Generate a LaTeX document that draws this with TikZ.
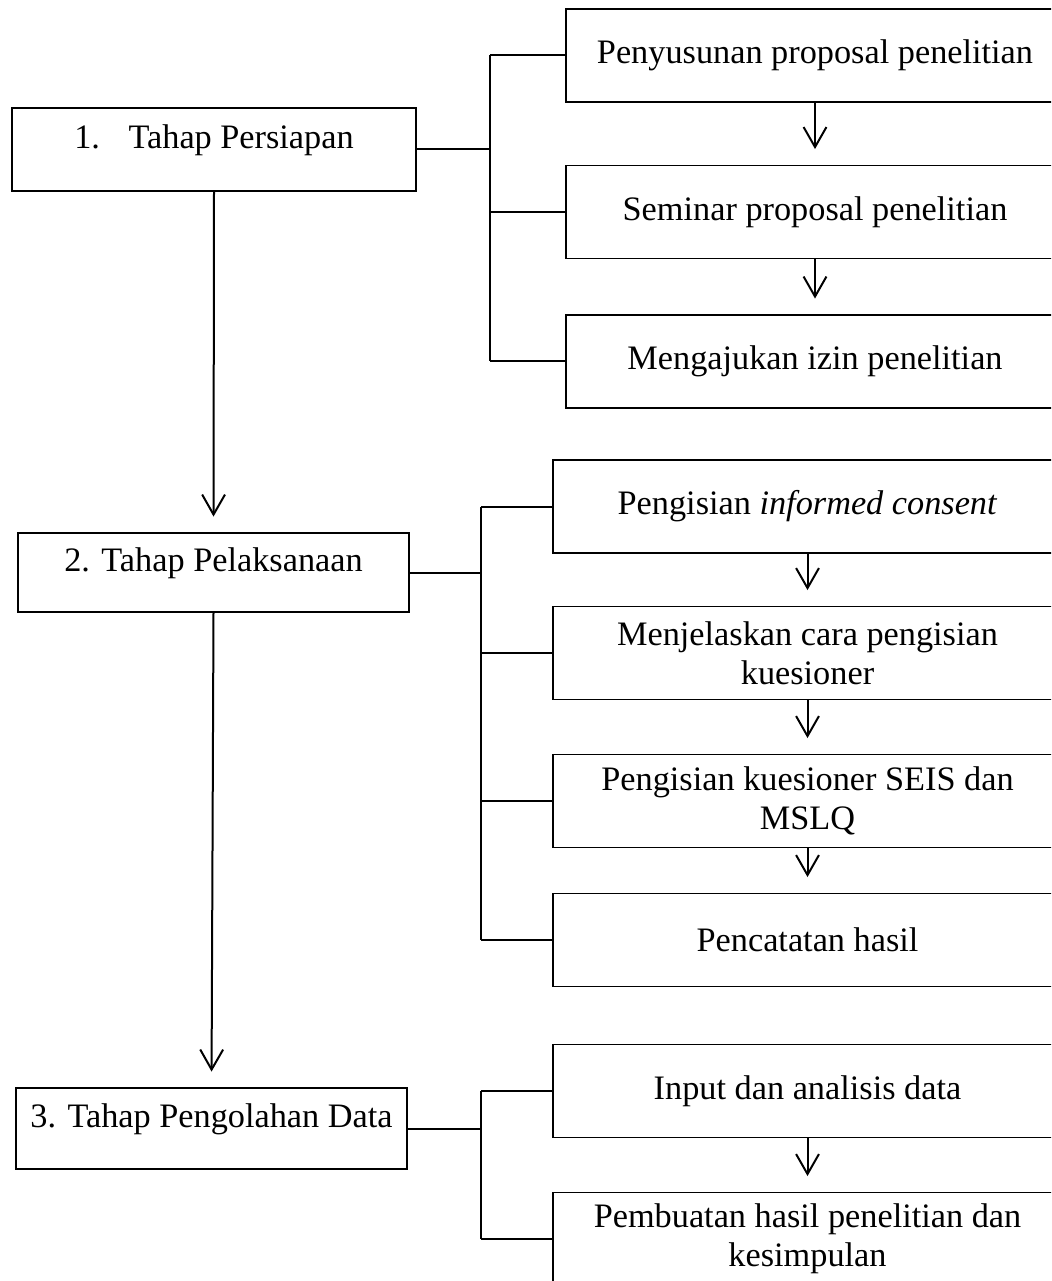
\documentclass[tikz,border=0pt]{standalone}
\usepackage{fontspec}
\setmainfont{Liberation Serif}
\usetikzlibrary{arrows.meta}

\begin{document}
\begin{tikzpicture}[x=0.35pt,y=-0.35pt,font=\fontsize{12}{13.8}\selectfont,
  tahap/.style={draw,line width=0.5pt,text height=8pt,text depth=8.6pt},
  kegiatan/.style={draw,line width=0.5pt,align=center,minimum height=32.55pt,minimum width=178.15pt},
  kegiatanA/.style={kegiatan,minimum width=174.3pt},
  garis/.style={line width=0.7pt},
  panah/.style={-{Straight Barb[length=7pt,width=8pt]},line width=0.7pt,shorten >=5.5pt}]
\useasboundingbox (0,0) rectangle (1051,1281);
\clip (0,0) rectangle (1051,1281);
% Tahap
\node[tahap,minimum width=141.4pt,minimum height=29.05pt] (persiapan) at (214,149.5) {1.\hspace{10pt}Tahap Persiapan};
\node[tahap,minimum width=136.85pt,minimum height=27.65pt] (pelaksanaan) at (213.5,572.5) {2. Tahap Pelaksanaan};
\node[tahap,minimum width=136.85pt,minimum height=28.35pt] (pengolahan) at (211.5,1128.5) {3. Tahap Pengolahan Data};
% Kegiatan tahap 1
\node[kegiatanA] (proposal) at (815,55.5) {Penyusunan proposal penelitian};
\node[kegiatanA] (seminar) at (815,212) {Seminar proposal penelitian};
\node[kegiatanA] (izin) at (815,361.5) {Mengajukan izin penelitian};
% Kegiatan tahap 2
\node[kegiatan] (consent) at (807.5,506.5) {Pengisian \textit{informed consent}};
\node[kegiatan] (jelaskan) at (807.5,653) {Menjelaskan cara pengisian\\kuesioner};
\node[kegiatan] (isi) at (807.5,801) {Pengisian kuesioner SEIS dan\\MSLQ};
\node[kegiatan] (catat) at (807.5,940) {Pencatatan hasil};
% Kegiatan tahap 3
\node[kegiatan] (analisis) at (807.5,1091) {Input dan analisis data};
\node[kegiatan] (kesimpulan) at (807.5,1239) {Pembuatan hasil penelitian dan\\kesimpulan};
% Panah
\draw[panah] (persiapan.south) -- (pelaksanaan.north);
\draw[panah] (pelaksanaan.south) -- (pengolahan.north);
\foreach \a/\b in {proposal/seminar,seminar/izin,consent/jelaskan,jelaskan/isi,isi/catat,analisis/kesimpulan}
  \draw[panah] (\a.south) -- (\b.north);
% Kurung
\coordinate (s1) at (490,0);
\coordinate (s2) at (481,0);
\coordinate (s3) at (481,0);
\draw[garis] (persiapan.east) -- (persiapan.east -| s1);
\draw[garis] (proposal.west -| s1) -- (izin.west -| s1);
\foreach \n in {proposal,seminar,izin} \draw[garis] (\n.west -| s1) -- (\n.west);
\draw[garis] (pelaksanaan.east) -- (pelaksanaan.east -| s2);
\draw[garis] (consent.west -| s2) -- (catat.west -| s2);
\foreach \n in {consent,jelaskan,isi,catat} \draw[garis] (\n.west -| s2) -- (\n.west);
\draw[garis] (pengolahan.east) -- (pengolahan.east -| s3);
\draw[garis] (analisis.west -| s3) -- (kesimpulan.west -| s3);
\foreach \n in {analisis,kesimpulan} \draw[garis] (\n.west -| s3) -- (\n.west);
\end{tikzpicture}
\end{document}
